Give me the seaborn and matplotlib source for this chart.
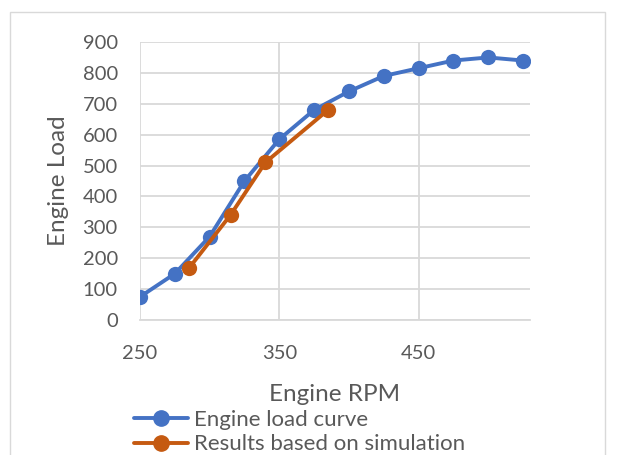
import numpy as np
import pandas as pd
import matplotlib.pyplot as plt
import matplotlib.patches as mpatches
import seaborn as sns

# Data
curve_rpm = [250, 275, 300, 325, 350, 375, 400, 425, 450, 475, 500, 525]
curve_load = [75, 150, 270, 450, 585, 680, 740, 790, 815, 840, 850, 840]
sim_rpm = [285, 315, 340, 385]
sim_load = [167, 340, 510, 680]

series_names = ["Engine load curve", "Results based on simulation"]
colors = ["#4472C4", "#C55A11"]

df = pd.concat([
    pd.DataFrame({"rpm": curve_rpm, "load": curve_load, "series": series_names[0]}),
    pd.DataFrame({"rpm": sim_rpm, "load": sim_load, "series": series_names[1]}),
])

sns.set_theme(style="white")
plt.rcParams["font.family"] = ["Lato", "DejaVu Sans"]
text_color = "#595959"
grid_color = "#D9D9D9"

fig = plt.figure(figsize=(6.17, 4.55), dpi=100)
ax = fig.add_axes([140 / 617, 1 - 320 / 455, 390 / 617, 278 / 455])

sns.lineplot(data=df, x="rpm", y="load", hue="series", hue_order=series_names,
             palette=colors, marker="o", markersize=11, markeredgewidth=0,
             linewidth=2.8, sort=False, ax=ax, legend=False, zorder=3)

ax.set_xlim(250, 530)
ax.set_ylim(0, 900)
ax.set_xticks([250, 350, 450])
ax.set_yticks(np.arange(0, 901, 100))
ax.grid(True, color=grid_color, linewidth=1.3)
for side in ["top", "right", "left"]:
    ax.spines[side].set_visible(False)
ax.spines["bottom"].set_color(grid_color)
ax.spines["bottom"].set_linewidth(1.3)
ax.tick_params(axis="both", length=0, labelsize=14.5, colors=text_color)
ax.tick_params(axis="x", pad=18)
ax.tick_params(axis="y", pad=16)
ax.set_xlabel("Engine RPM", fontsize=17.5, color=text_color, labelpad=16)
ax.set_ylabel("Engine Load", fontsize=17.5, color=text_color, labelpad=10)

# legend sits below the axis, its last row clipped by the image edge as in the reference
handles = [plt.Line2D([], [], color=c, linewidth=2.8, marker="o", markersize=11)
           for c in colors]
fig.legend(handles, series_names, loc="upper left", bbox_to_anchor=(125 / 617, 1 - 401 / 455),
           frameon=False, fontsize=16, labelcolor=text_color, handlelength=2.45,
           handletextpad=0.25, labelspacing=0.2, borderaxespad=0)

fig.patches.append(mpatches.Rectangle((10 / 617, -0.05), 595 / 617, 1.05 - 12 / 455,
                                      transform=fig.transFigure, fill=False,
                                      edgecolor="#D9D9D9", linewidth=1))

fig.savefig("out.png", dpi=100)
